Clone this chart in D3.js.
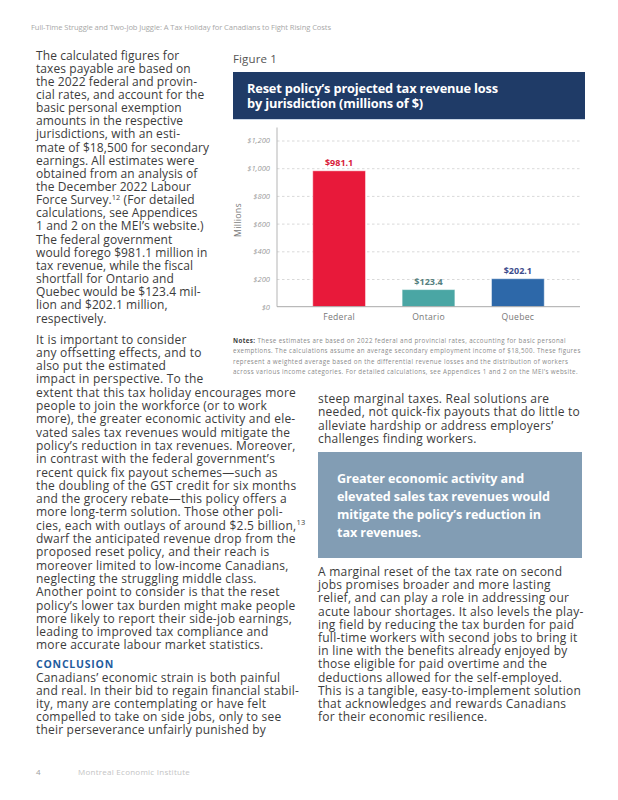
<!DOCTYPE html>
<html>
<head>
<meta charset="utf-8">
<script src="https://cdn.jsdelivr.net/npm/d3@7/dist/d3.min.js"></script>
<style>
  html, body { margin: 0; padding: 0; background: #fff; }
  svg { display: block; }
</style>
</head>
<body>
<svg id="page" width="618" height="800"></svg>
<script>
// ---------- DATA ----------
const categories = ["Federal", "Ontario", "Quebec"];
const values = [981.1, 123.4, 202.1];
const yTicks = [0, 200, 400, 600, 800, 1000, 1200];
const barColors = ["#e8193a", "#4aa6a4", "#2d68a9"];
const labelColors = ["#d8203a", "#557f80", "#3d4c8c"];

const headerText = "Full-Time Struggle and Two-Job Juggle: A Tax Holiday for Canadians to Fight Rising Costs";
const figureLabel = "Figure 1";
const chartTitle = ["Reset policy’s projected tax revenue loss", "by jurisdiction (millions of $)"];
const yAxisTitle = "Millions";
const notesLines = [
  "These estimates are based on 2022 federal and provincial rates, accounting for basic personal",
  "exemptions. The calculations assume an average secondary employment income of $18,500. These figures",
  "represent a weighted average based on the differential revenue losses and the distribution of workers",
  "across various income categories. For detailed calculations, see Appendices 1 and 2 on the MEI’s website."
];

const leftPara1 = [
  "The calculated figures for",
  "taxes payable are based on",
  "the 2022 federal and provin-",
  "cial rates, and account for the",
  "basic personal exemption",
  "amounts in the respective",
  "jurisdictions, with an esti-",
  "mate of $18,500 for secondary",
  "earnings. All estimates were",
  "obtained from an analysis of",
  "the December 2022 Labour",
  "Force Survey.^12 (For detailed",
  "calculations, see Appendices",
  "1 and 2 on the MEI’s website.)",
  "The federal government",
  "would forego $981.1 million in",
  "tax revenue, while the fiscal",
  "shortfall for Ontario and",
  "Quebec would be $123.4 mil-",
  "lion and $202.1 million,",
  "respectively."
];
const leftPara2 = [
  "It is important to consider",
  "any offsetting effects, and to",
  "also put the estimated",
  "impact in perspective. To the",
  "extent that this tax holiday encourages more",
  "people to join the workforce (or to work",
  "more), the greater economic activity and ele-",
  "vated sales tax revenues would mitigate the",
  "policy’s reduction in tax revenues. Moreover,",
  "in contrast with the federal government’s",
  "recent quick fix payout schemes—such as",
  "the doubling of the GST credit for six months",
  "and the grocery rebate—this policy offers a",
  "more long-term solution. Those other poli-",
  "cies, each with outlays of around $2.5 billion,^13",
  "dwarf the anticipated revenue drop from the",
  "proposed reset policy, and their reach is",
  "moreover limited to low-income Canadians,",
  "neglecting the struggling middle class.",
  "Another point to consider is that the reset",
  "policy’s lower tax burden might make people",
  "more likely to report their side-job earnings,",
  "leading to improved tax compliance and",
  "more accurate labour market statistics."
];
const conclusionHead = "CONCLUSION";
const conclusionPara = [
  "Canadians’ economic strain is both painful",
  "and real. In their bid to regain financial stabil-",
  "ity, many are contemplating or have felt",
  "compelled to take on side jobs, only to see",
  "their perseverance unfairly punished by"
];
const rightPara1 = [
  "steep marginal taxes. Real solutions are",
  "needed, not quick-fix payouts that do little to",
  "alleviate hardship or address employers’",
  "challenges finding workers."
];
const calloutLines = [
  "Greater economic activity and",
  "elevated sales tax revenues would",
  "mitigate the policy’s reduction in",
  "tax revenues."
];
const rightPara2 = [
  "A marginal reset of the tax rate on second",
  "jobs promises broader and more lasting",
  "relief, and can play a role in addressing our",
  "acute labour shortages. It also levels the play-",
  "ing field by reducing the tax burden for paid",
  "full-time workers with second jobs to bring it",
  "in line with the benefits already enjoyed by",
  "those eligible for paid overtime and the",
  "deductions allowed for the self-employed.",
  "This is a tangible, easy-to-implement solution",
  "that acknowledges and rewards Canadians",
  "for their economic resilience."
];
const footerPage = "4";
const footerName = "Montreal Economic Institute";

// ---------- HELPERS ----------
const FONT = "'Open Sans', 'DejaVu Sans', sans-serif";
const svg = d3.select("#page");
svg.append("rect").attr("width", 618).attr("height", 800).attr("fill", "#fff");

function addLine(g, str, x, y, o) {
  const t = g.append("text")
    .attr("x", x).attr("y", y)
    .attr("font-family", FONT)
    .attr("font-size", o.size)
    .attr("font-weight", o.weight || 400)
    .attr("fill", o.color);
  const parts = str.split(/\^(\d+)/);
  let afterSup = false;
  parts.forEach((p, i) => {
    if (i % 2 === 0) {
      if (p.length) {
        const ts = t.append("tspan").text(p);
        if (afterSup) ts.attr("dy", o.size * 0.38);
      }
      afterSup = false;
    } else {
      t.append("tspan").attr("dy", -o.size * 0.38)
        .attr("font-size", o.size * 0.62).text(p);
      afterSup = true;
    }
  });
  return t;
}

// draw block of lines with fixed font size; letter-spacing fitted so that ref line has refWidth
function block(lines, x, yFirst, lh, o) {
  const g = svg.append("g");
  const texts = lines.map((l, i) => addLine(g, l, x, yFirst + i * lh, o));
  if (o.refWidth) {
    const w = texts[o.ref].node().getComputedTextLength();
    const n = lines[o.ref].replace(/\^/g, "").length;
    const ls = (o.refWidth - w) / n;
    texts.forEach(t => t.attr("letter-spacing", ls));
  }
  return g;
}

const bodyColor = "#3c3c3c";

// ---------- HEADER ----------
block([headerText], 31, 30, 0, { size: 7.6, color: "#a8a8a8", ref: 0, refWidth: 300 });

// ---------- LEFT COLUMN ----------
block(leftPara1, 36, 59.5, 13.15, { size: 12, color: bodyColor, ref: 7, refWidth: 173 });
block(leftPara2, 36, 343.5, 13.3, { size: 12, color: bodyColor, ref: 4, refWidth: 260 });
block([conclusionHead], 36, 668, 0, { size: 10.5, color: "#1f5c9e", ref: 0, refWidth: 78, weight: 700 });
block(conclusionPara, 36, 681.5, 13.2, { size: 12, color: bodyColor, ref: 1, refWidth: 263 });

// ---------- FIGURE ----------
block([figureLabel], 233, 63, 0, { size: 11.5, color: "#555", ref: 0, refWidth: 44 });
svg.append("rect").attr("x", 233).attr("y", 72).attr("width", 352).attr("height", 47).attr("fill", "#1f3b67");
svg.append("line").attr("x1", 233).attr("x2", 585).attr("y1", 119.5).attr("y2", 119.5)
  .attr("stroke", "#c9d6e6").attr("stroke-width", 1);
block(chartTitle, 247, 92.5, 15.5, { size: 12.8, color: "#ffffff", ref: 0, refWidth: 251, weight: 700 });

// chart
const x0 = 277, x1 = 580, yTop = 140.5, yBot = 306.7;
const x = d3.scaleBand().domain(categories).range([x0, x1]).paddingInner(0.41).paddingOuter(0.4);
const y = d3.scaleLinear().domain([0, 1200]).range([yBot, yTop]);

const chart = svg.append("g");

// gridlines
const grid = chart.append("g").attr("transform", `translate(${x0},0)`)
  .call(d3.axisLeft(y).tickValues(yTicks.filter(d => d > 0)).tickSize(-(x1 - x0)).tickFormat(""));
grid.select(".domain").remove();
grid.selectAll(".tick text").remove();
grid.selectAll(".tick line").attr("stroke", "#cfcfcf").attr("stroke-dasharray", "2.5,2.5").attr("stroke-width", 0.8);

// y axis labels
const yAxis = chart.append("g").attr("transform", `translate(${x0},0)`)
  .call(d3.axisLeft(y).tickValues(yTicks).tickSize(0).tickPadding(7)
    .tickFormat(d => "$" + d3.format(",")(d)));
yAxis.select(".domain").attr("stroke", "#b5b5b5").attr("d", `M0,${yTop - 13}V${yBot}`);
yAxis.selectAll(".tick text").attr("font-family", FONT).attr("font-size", 7.6)
  .attr("font-style", "italic").attr("fill", "#9a9a9a");

// bars
chart.selectAll("rect.bar").data(values).join("rect").attr("class", "bar")
  .attr("x", (d, i) => x(categories[i]))
  .attr("width", x.bandwidth())
  .attr("y", d => y(d))
  .attr("height", d => y(0) - y(d))
  .attr("fill", (d, i) => barColors[i])
  .attr("stroke", "rgba(255,255,255,0.45)").attr("stroke-width", 1);

// value labels
chart.selectAll("text.val").data(values).join("text").attr("class", "val")
  .attr("x", (d, i) => x(categories[i]) + x.bandwidth() / 2)
  .attr("y", d => y(d) - 5)
  .attr("text-anchor", "middle")
  .attr("font-family", FONT).attr("font-size", 9).attr("font-weight", 700)
  .attr("fill", (d, i) => labelColors[i])
  .text(d => "$" + d3.format(".1f")(d));

// x axis
const xAxis = chart.append("g").attr("transform", `translate(0,${yBot})`)
  .call(d3.axisBottom(x).tickSize(0).tickPadding(7));
xAxis.select(".domain").attr("stroke", "#a9a9a9").attr("d", `M${x0},0H${x1}`);
xAxis.selectAll(".tick text").attr("font-family", FONT).attr("font-size", 8.6).attr("fill", "#777")
  .attr("letter-spacing", 0.3);

// y axis title
chart.append("text").attr("transform", `translate(241,220) rotate(-90)`)
  .attr("text-anchor", "middle").attr("font-family", FONT).attr("font-size", 8.8)
  .attr("fill", "#7a7a7a").attr("letter-spacing", 0.3).text(yAxisTitle);

// notes
(function () {
  const g = svg.append("g");
  const size = 6.2;
  const texts = notesLines.map((l, i) => {
    const t = g.append("text").attr("x", 233).attr("y", 342.5 + i * 10.6)
      .attr("font-family", FONT).attr("font-size", size).attr("fill", "#8a8a8a");
    if (i === 0) t.append("tspan").attr("font-weight", 700).attr("fill", "#3c3c3c").text("Notes: ");
    t.append("tspan").text(l);
    return t;
  });
  const w = texts[3].node().getComputedTextLength();
  const ls = (345 - w) / notesLines[3].length;
  texts.forEach(t => t.attr("letter-spacing", ls));
})();

// ---------- RIGHT COLUMN ----------
block(rightPara1, 318, 403, 13.3, { size: 12, color: bodyColor, ref: 1, refWidth: 262 });
svg.append("rect").attr("x", 318).attr("y", 452).attr("width", 264).attr("height", 106).attr("fill", "#829db4");
block(calloutLines, 337, 482.5, 18.2, { size: 12.6, color: "#ffffff", ref: 1, refWidth: 213, weight: 700 });
block(rightPara2, 318, 576, 13.2, { size: 12, color: bodyColor, ref: 9, refWidth: 263 });

// ---------- FOOTER ----------
block([footerPage], 36, 775, 0, { size: 8, color: "#a0a0a0" });
block([footerName], 78, 775, 0, { size: 8, color: "#c4c4c4", ref: 0, refWidth: 112 });
</script>
</body>
</html>
